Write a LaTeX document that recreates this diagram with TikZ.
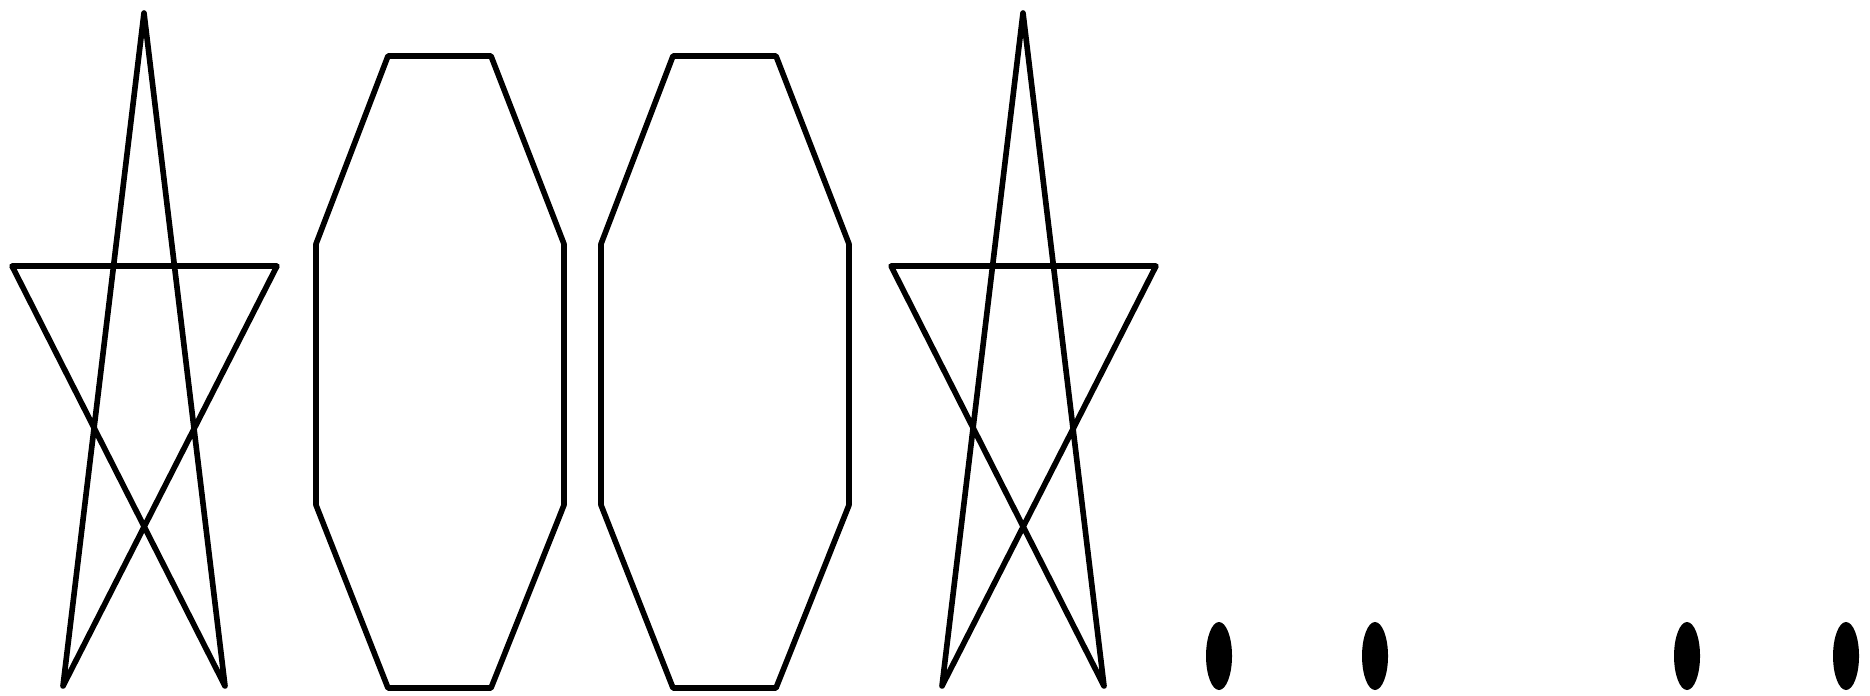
\documentclass[tikz,border=0pt]{standalone}
\usepackage{tikz}

\begin{document}
\begin{tikzpicture}[x=0.1mm,y=-0.1mm,line join=round,
        outline/.style={draw=black,line width=1.6pt},
        blob/.style={fill=black}]
        \useasboundingbox (0,0) rectangle (1870,695);
        % stars
        \foreach \dx in {0,879}
            \draw[outline,shift={(\dx,0)}] (144,13) -- (63,686) -- (277,266) -- (12,266) -- (225,686) -- cycle;
        % octagons
        \foreach \dx in {0,285}
            \draw[outline,shift={(\dx,0)}] (388,56) -- (491,56) -- (564,244) -- (564,505) -- (491,688) -- (388,688) -- (316,505) -- (316,244) -- cycle;
        % dots
        \foreach \px in {1219,1375,1687,1846}
            \fill[blob] (\px,656) ellipse [x radius=13, y radius=34];
    \end{tikzpicture}
\end{document}
